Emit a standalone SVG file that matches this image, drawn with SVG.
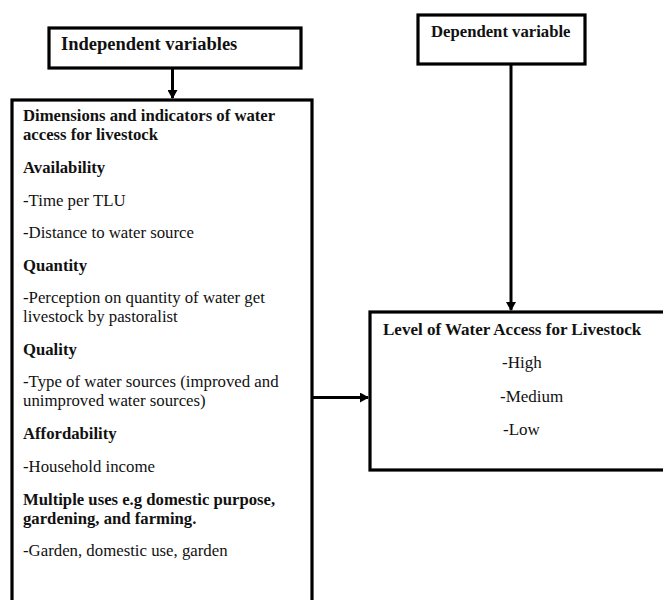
<svg xmlns="http://www.w3.org/2000/svg" width="663" height="600" viewBox="0 0 663 600" font-family="Liberation Serif, Times New Roman, serif">
<style>
.box{fill:#fff;stroke:#000;stroke-width:3.2}
.b{font-weight:bold;font-size:16.7px;fill:#111}
.r{font-size:16.8px;fill:#111}
.con{stroke:#000;stroke-width:3;fill:none}
</style>
<defs>
<marker id="ah" markerWidth="10" markerHeight="10" refX="8" refY="5" orient="auto" markerUnits="userSpaceOnUse">
<path d="M0,0 L9,5 L0,10 Z" fill="#000"/>
</marker>
</defs>
<rect width="663" height="600" fill="#fff"/>
<g id="independent">
<rect class="box" x="49" y="28" width="252" height="40"/>
<text class="b" x="61" y="50" style="font-size:18.5px">Independent variables</text>
</g>
<g id="dependent">
<rect class="box" x="418" y="15" width="167" height="49"/>
<text class="b" x="431" y="37">Dependent variable</text>
</g>
<g id="dimensions">
<rect class="box" x="12" y="100" width="300" height="504"/>
<text class="b" x="23" y="121">Dimensions and indicators of water</text>
<text class="b" x="23" y="140">access for livestock</text>
<text class="b" x="23" y="173">Availability</text>
<text class="r" x="23" y="206">-Time per TLU</text>
<text class="r" x="23" y="238">-Distance to water source</text>
<text class="b" x="23" y="271">Quantity</text>
<text class="r" x="23" y="303">-Perception on quantity of water get</text>
<text class="r" x="23" y="322">livestock by pastoralist</text>
<text class="b" x="23" y="355">Quality</text>
<text class="r" x="23" y="387">-Type of water sources (improved and</text>
<text class="r" x="23" y="406">unimproved water sources)</text>
<text class="b" x="23" y="439">Affordability</text>
<text class="r" x="23" y="472">-Household income</text>
<text class="b" x="23" y="505">Multiple uses e.g domestic purpose,</text>
<text class="b" x="23" y="524">gardening, and farming.</text>
<text class="r" x="23" y="556">-Garden, domestic use, garden</text>
</g>
<g id="level">
<rect class="box" x="370" y="312" width="300" height="158"/>
<text class="b" x="383" y="335" style="font-size:17px">Level of Water Access for Livestock</text>
<text class="r" x="502" y="368" style="font-size:17px">-High</text>
<text class="r" x="500" y="402" style="font-size:17px">-Medium</text>
<text class="r" x="503" y="435" style="font-size:17px">-Low</text>
</g>
<g id="connectors">
<line class="con" x1="172.5" y1="69" x2="172.5" y2="98" marker-end="url(#ah)"/>
<line class="con" x1="511" y1="65" x2="511" y2="310" marker-end="url(#ah)"/>
<line class="con" x1="313" y1="397.5" x2="368" y2="397.5" marker-end="url(#ah)"/>
</g>
</svg>
